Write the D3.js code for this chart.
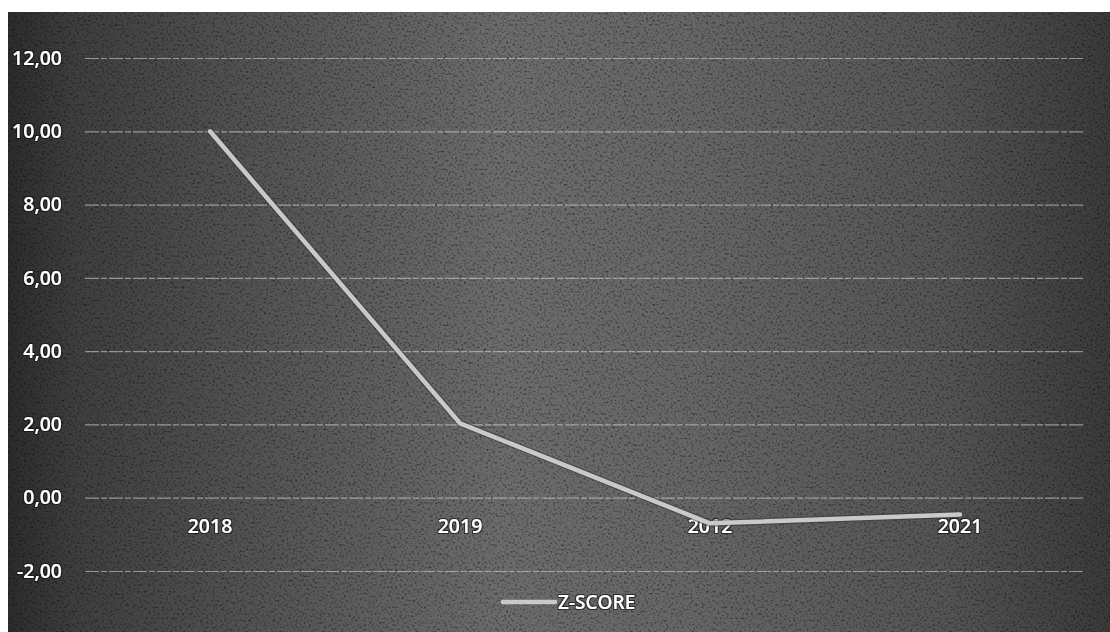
<!DOCTYPE html>
<html>
<head>
<meta charset="utf-8">
<script src="https://cdn.jsdelivr.net/npm/d3@7/dist/d3.min.js"></script>
<style>
  html, body { margin: 0; padding: 0; background: #fff; }
  svg { display: block; }
  text { font-family: "Open Sans", "Lato", sans-serif; }
</style>
</head>
<body>
<svg id="chart" width="1110" height="632"></svg>
<script>
const categories = ["2018", "2019", "2012", "2021"];
const zScore = [10.0, 2.03, -0.70, -0.46];
const yTicks = [-2, 0, 2, 4, 6, 8, 10, 12];
const seriesName = "Z-SCORE";

const W = 1110, H = 632;
const svg = d3.select("#chart");
const defs = svg.append("defs");

const grad = defs.append("linearGradient").attr("id", "bg").attr("x1", "0").attr("x2", "1").attr("y1", "0").attr("y2", "0");
[[0, "#2c2c2c"], [0.06, "#3e3e3e"], [0.2, "#505050"], [0.45, "#6c6c6c"], [0.62, "#666666"], [0.85, "#545454"], [1, "#3a3a3a"]]
  .forEach(([o, c]) => grad.append("stop").attr("offset", o).attr("stop-color", c));

const f = defs.append("filter").attr("id", "noise").attr("x", 0).attr("y", 0).attr("width", "100%").attr("height", "100%");
f.append("feTurbulence").attr("type", "fractalNoise").attr("baseFrequency", "0.45").attr("numOctaves", 2).attr("seed", 7).attr("result", "t");
f.append("feColorMatrix").attr("type", "matrix")
  .attr("values", "0 0 0 0 0  0 0 0 0 0  0 0 0 0 0  -2.2 0 0 0 1.1");

const halo = defs.append("filter").attr("id", "halo");
halo.append("feMorphology").attr("in", "SourceAlpha").attr("operator", "dilate").attr("radius", 1.2).attr("result", "d");
halo.append("feFlood").attr("flood-color", "#111").attr("flood-opacity", 0.7);
halo.append("feComposite").attr("in2", "d").attr("operator", "in").attr("result", "h");
const m = halo.append("feMerge");
m.append("feMergeNode").attr("in", "h");
m.append("feMergeNode").attr("in", "SourceGraphic");

// background plate
svg.append("rect").attr("x", 8).attr("y", 12).attr("width", W - 8).attr("height", H - 12).attr("fill", "url(#bg)");
svg.append("rect").attr("x", 8).attr("y", 12).attr("width", W - 8).attr("height", H - 12).attr("filter", "url(#noise)").attr("opacity", 0.6);

const x = d3.scaleBand().domain(categories).range([85, 1085]).padding(0);
const y = d3.scaleLinear().domain([-2, 12]).range([571, 58]);

// gridlines
const grid = svg.append("g").attr("transform", "translate(85,0)")
  .call(d3.axisLeft(y).tickValues(yTicks).tickSize(-1000).tickFormat(""));
grid.select(".domain").remove();
grid.selectAll("line").attr("stroke", "#d0d0d0").attr("stroke-opacity", 0.6).attr("stroke-width", 1.2)
  .attr("stroke-dasharray", "14 2 6 2");

// y labels
const yAx = svg.append("g").attr("transform", "translate(62,0)")
  .call(d3.axisLeft(y).tickValues(yTicks).tickSize(0).tickPadding(0)
    .tickFormat(d => d3.format(".2f")(d).replace(".", ",").replace("\u2212", "-")));
yAx.select(".domain").remove();
yAx.selectAll("text").attr("fill", "#fff").attr("font-size", 19.5).attr("font-weight", 600)
  .attr("filter", "url(#halo)");

// x labels next to the zero line
const xAx = svg.append("g").attr("transform", `translate(0,${y(0)})`)
  .call(d3.axisBottom(x).tickSize(0).tickPadding(21));
xAx.select(".domain").remove();
xAx.selectAll("text").attr("fill", "#fff").attr("font-size", 19.5).attr("font-weight", 600)
  .attr("filter", "url(#halo)");

// line
const line = d3.line().x((d, i) => x(categories[i]) + x.bandwidth() / 2).y(d => y(d));
svg.append("path").datum(zScore).attr("d", line)
  .attr("fill", "none").attr("stroke", "#3a3a3a").attr("stroke-opacity", 0.6).attr("stroke-width", 7)
  .attr("stroke-linecap", "round").attr("stroke-linejoin", "round");
svg.append("path").datum(zScore).attr("d", line)
  .attr("fill", "none").attr("stroke", "#c9c9c9").attr("stroke-width", 4.5)
  .attr("stroke-linecap", "round").attr("stroke-linejoin", "round");

// legend
const lg = svg.append("g").attr("transform", "translate(503,602)");
lg.append("line").attr("x1", 0).attr("x2", 52).attr("y1", 0).attr("y2", 0)
  .attr("stroke", "#c9c9c9").attr("stroke-width", 4.5).attr("stroke-linecap", "round");
lg.append("text").attr("x", 55).attr("y", 0).attr("dy", "0.35em").text(seriesName)
  .attr("fill", "#fff").attr("font-size", 19).attr("font-weight", 600).attr("filter", "url(#halo)");
</script>
</body>
</html>
